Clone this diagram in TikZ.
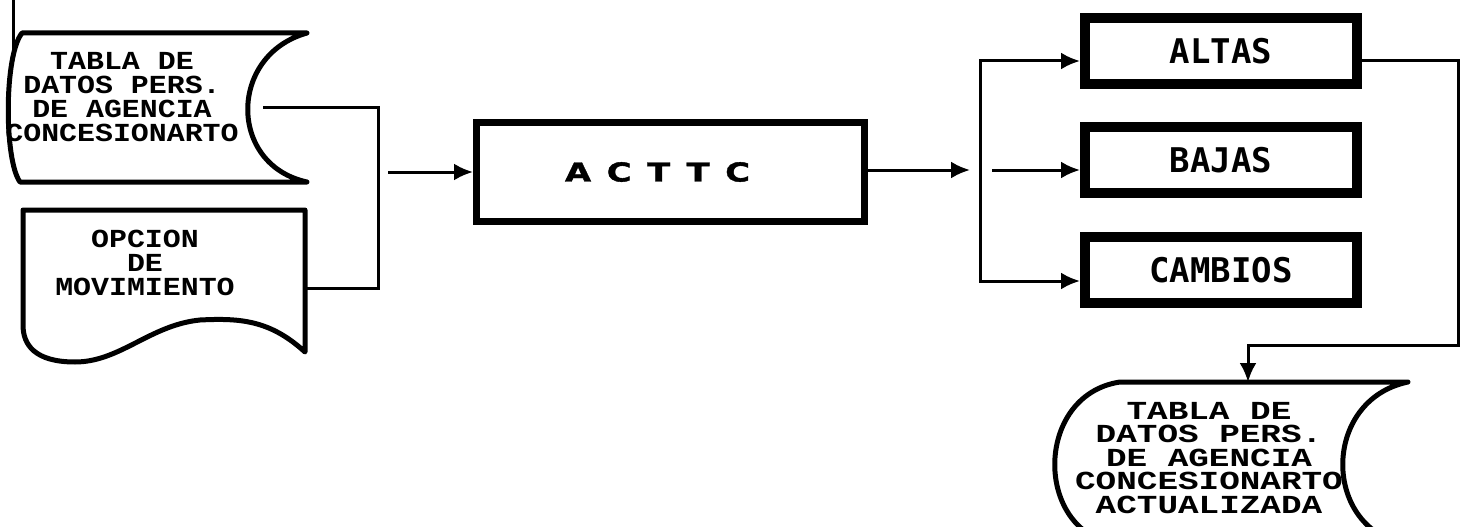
\documentclass[tikz,border=0pt]{standalone}
\usepackage{fontspec}
\usetikzlibrary{arrows.meta,positioning}
\newfontfamily\tablafont[FakeStretch=1.15]{Liberation Mono}
\newfontfamily\tablaancha[FakeStretch=1.32]{Liberation Mono}
\newfontfamily\cajafont{DejaVu Sans Mono}
\newfontfamily\procfont[FakeStretch=1.3,FakeBold=1.5,LetterSpace=60]{DejaVu Sans}
\tikzset{
    %Flecha estandar
    >={Latex[length=19pt,width=17pt]},
    linea/.style={line width=3pt},
    contorno/.style={
      draw=black, line width=5pt,
      line join=round},
    proceso/.style={
      rectangle,
      draw=black, line width=7pt,
      minimum width=388pt,
      minimum height=99pt,
      font=\procfont\bfseries\fontsize{26pt}{26pt}\selectfont},
    caja/.style={
      rectangle,
      draw=black, line width=10pt,
      minimum width=272pt,
      minimum height=66pt,
      font=\cajafont\bfseries\fontsize{34pt}{34pt}\selectfont},
    tabla/.style={
      align=center, inner sep=0pt,
      font=\tablafont\bfseries\fontsize{26pt}{24pt}\selectfont},
    tablagrande/.style={
      tabla,
      font=\tablaancha\bfseries\fontsize{26pt}{23.5pt}\selectfont}
}
\begin{document}
\begin{tikzpicture}[x=1pt,y=-1pt]
\useasboundingbox (0,0) rectangle (1465,527);
\clip (0,0) rectangle (1465,527);

% entradas
\draw[contorno] (22,33) -- (307,33) .. controls (228,55) and (228,165) .. (307,182)
  -- (20,182) .. controls (4,160) and (4,55) .. (22,33) -- cycle;
\node[tabla] (tabla) at (122,97) {TABLA DE\\DATOS PERS.\\DE AGENCIA\\CONCESIONARTO};
\draw[contorno] (23,210) -- (305,210) -- (305,352) .. controls (270,320) and (240,318) .. (200,320)
  .. controls (150,325) and (120,362) .. (75,362) .. controls (35,362) and (23,345) .. (23,325) -- cycle;
\node[tabla] (opcion) at (145,263) {OPCION\\DE\\MOVIMIENTO};

\coordinate (arriba) at (13,0);
\coordinate (tablaizq) at (13,52);
\coordinate (tablasal) at (263,107);
\coordinate (opcionsal) at (305,288);
\coordinate (busI) at (378,288);
\coordinate (entrada) at (388,172);
\draw[linea] (arriba) -- (tablaizq);
\draw[linea] (tablasal) -| (busI) -- (opcionsal);

% proceso
\node[proceso] (acttc) at (670.5,172) {ACTTC\hspace*{26pt}};
\draw[linea,->] (entrada) -- (acttc);

% movimientos
\node[caja] (altas) at (1221,51) {ALTAS};
\node[caja, below=33pt of altas] (bajas) {BAJAS};
\node[caja, below=34pt of bajas] (cambios) {CAMBIOS};

\coordinate (finA) at (970,170);
\coordinate (busT) at (980,61);
\coordinate (busB) at (980,281);
\coordinate (busM) at (992,170);
\draw[linea,->] (acttc.east |- finA) -- (finA);
\draw[linea,<->] (altas.west |- busT) -- (busT) -- (busB) -- (cambios.west |- busB);
\draw[linea,->] (busM) -- (bajas.west |- busM);

% salida
\coordinate (esq1) at (1458,61);
\coordinate (esq2) at (1458,345);
\coordinate (nuevaent) at (1248,382);
\draw[linea,->] (altas.east |- esq1) -- (esq1) -- (esq2) -| (nuevaent);
\draw[contorno] (1120,382) -- (1408,382) .. controls (1321,400) and (1321,530) .. (1408,545)
  -- (1120,545) .. controls (1033,535) and (1033,395) .. (1120,382) -- cycle;
\node[tablagrande] (nueva) at (1209,458) {TABLA DE\\DATOS PERS.\\DE AGENCIA\\CONCESIONARTO\\ACTUALIZADA};
\end{tikzpicture}
\end{document}
